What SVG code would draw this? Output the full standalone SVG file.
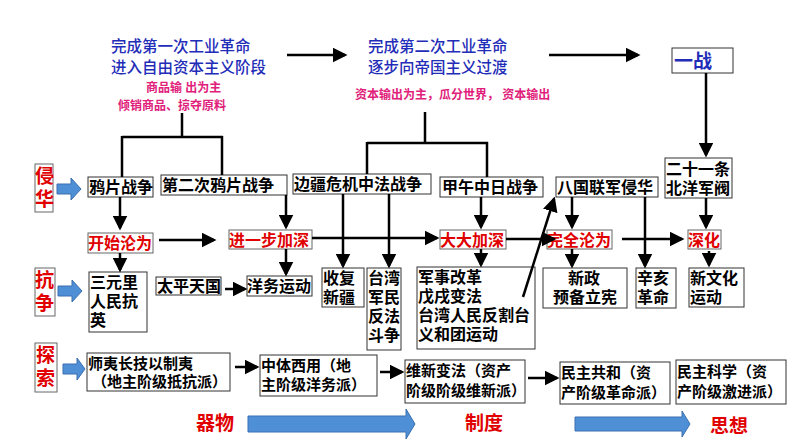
<svg xmlns="http://www.w3.org/2000/svg" width="794" height="447" viewBox="0 0 794 447">
<style>
text{font-family:"Liberation Sans","Noto Sans CJK SC",sans-serif;font-weight:bold}
.b{fill:#fff;stroke:#333;stroke-width:1}
.t{font-size:16px;fill:#000}
.r{font-size:16px;fill:#e00000}
.rb{fill:#fff;stroke:#666;stroke-width:1}
.blue{font-size:15.5px;fill:#1f2db8;font-weight:500}
.pk{font-size:12px;fill:#e0207a}
.ln{stroke:#000;stroke-width:2.5;fill:none}
.ba{fill:#4f8fd6;stroke:#3a6fb0;stroke-width:1}
.big{font-size:19px;fill:#e00000}
</style>
<defs><marker id="a" markerWidth="6" markerHeight="6" refX="5" refY="3" orient="auto" markerUnits="strokeWidth"><path d="M0,0L6,3L0,6z" fill="#000"/></marker></defs>
<g id="top">
<text class="blue" x="111" y="52">完成第一次工业革命</text>
<text class="blue" x="111" y="73">进入自由资本主义阶段</text>
<text class="blue" x="368" y="52">完成第二次工业革命</text>
<text class="blue" x="368" y="73">逐步向帝国主义过渡</text>
<text class="pk" x="146" y="92">商品输 出为主</text>
<text class="pk" x="118" y="110">倾销商品、掠夺原料</text>
<text class="pk" x="355" y="99">资本输出为主，瓜分世界，  资本输出</text>
</g>
<g id="yizhan"><rect class="b" x="672" y="48" width="61" height="25" stroke="#777"/><text class="blue" x="674" y="68" style="font-size:19px;font-weight:bold">一战</text></g>
<g id="side">
<rect class="rb" x="35" y="164" width="18" height="48"/><text class="big" x="35" y="183">侵</text><text class="big" x="35" y="206">华</text>
<rect class="rb" x="35" y="268" width="20" height="48"/><text class="big" x="35" y="287">抗</text><text class="big" x="35" y="310">争</text>
<rect class="rb" x="35" y="343" width="22" height="49"/><text class="big" x="36" y="362">探</text><text class="big" x="36" y="385">索</text>
<path class="ba" d="M57,184h14v-6l10,11l-10,11v-6h-14z"/>
<path class="ba" d="M58,286h14v-6l10,11l-10,11v-6h-14z"/>
<path class="ba" d="M63,364h14v-6l8,11l-8,11v-6h-14z"/>
</g>
<g id="row1">
<rect class="b" x="88" y="177" width="65" height="20"/><text class="t" x="89" y="193">鸦片战争</text>
<rect class="b" x="161" y="175" width="126" height="20"/><text class="t" x="162" y="191">第二次鸦片战争</text>
<rect class="b" x="293" y="174" width="138" height="20"/><text class="t" x="294" y="190">边疆危机中法战争</text>
<rect class="b" x="440" y="177" width="103" height="20"/><text class="t" x="442" y="193">甲午中日战争</text>
<rect class="b" x="556" y="177" width="102" height="20"/><text class="t" x="557" y="193">八国联军侵华</text>
<rect class="b" x="665" y="158" width="67" height="40"/><text class="t" x="666" y="175">二十一条</text><text class="t" x="666" y="194">北洋军阀</text>
</g>
<g id="row2">
<rect class="rb" x="88" y="233" width="65" height="20"/><text class="r" x="88" y="249">开始沦为</text>
<rect class="rb" x="229" y="230" width="83" height="19"/><text class="r" x="229" y="246">进一步加深</text>
<rect class="rb" x="440" y="230" width="66" height="19"/><text class="r" x="440" y="246">大大加深</text>
<rect class="rb" x="547" y="230" width="65" height="19"/><text class="r" x="547" y="246">完全沦为</text>
<rect class="rb" x="688" y="230" width="33" height="19"/><text class="r" x="688" y="246">深化</text>
</g>
<g id="row3">
<rect class="b" x="89" y="272" width="58" height="60"/><text class="t" x="90" y="288">三元里</text><text class="t" x="90" y="307">人民抗</text><text class="t" x="90" y="326">英</text>
<rect class="b" x="156" y="277" width="65" height="18"/><text class="t" x="157" y="292">太平天国</text>
<rect class="b" x="247" y="276" width="65" height="20"/><text class="t" x="247" y="292">洋务运动</text>
<rect class="b" x="322" y="268" width="42" height="39"/><text class="t" x="323" y="284">收复</text><text class="t" x="323" y="303">新疆</text>
<rect class="b" x="367" y="268" width="34" height="82"/><text class="t" x="368" y="284">台湾</text><text class="t" x="368" y="303">军民</text><text class="t" x="368" y="322">反法</text><text class="t" x="368" y="341">斗争</text>
<rect class="b" x="417" y="267" width="118" height="82"/><text class="t" x="418" y="283">军事改革</text><text class="t" x="418" y="302">戊戌变法</text><text class="t" x="418" y="321">台湾人民反割台</text><text class="t" x="418" y="340">义和团运动</text>
<rect class="b" x="543" y="268" width="84" height="40"/><text class="t" x="568" y="284">新政</text><text class="t" x="553" y="303">预备立宪</text>
<rect class="b" x="636" y="268" width="40" height="40"/><text class="t" x="637" y="284">辛亥</text><text class="t" x="637" y="303">革命</text>
<rect class="b" x="689" y="268" width="55" height="39"/><text class="t" x="690" y="284">新文化</text><text class="t" x="690" y="303">运动</text>
</g>
<g id="row4">
<rect class="b" x="87" y="353" width="143" height="38"/><text class="t" x="88" y="369" style="font-size:15px">师夷长技以制夷</text><text class="t" x="92" y="387" style="font-size:15px">（地主阶级抵抗派）</text>
<rect class="b" x="260" y="355" width="117" height="41"/><text class="t" x="261" y="371" style="font-size:15px">中体西用（地</text><text class="t" x="261" y="390" style="font-size:15px">主阶级洋务派）</text>
<rect class="b" x="405" y="360" width="120" height="43"/><text class="t" x="406" y="376" style="font-size:15px">维新变法（资产</text><text class="t" x="406" y="396" style="font-size:15px">阶级阶级维新派）</text>
<rect class="b" x="560" y="362" width="110" height="42"/><text class="t" x="561" y="378" style="font-size:15px">民主共和（资</text><text class="t" x="561" y="398" style="font-size:15px">产阶级革命派）</text>
<rect class="b" x="676" y="360" width="110" height="44"/><text class="t" x="677" y="377" style="font-size:15px">民主科学（资</text><text class="t" x="677" y="397" style="font-size:15px">产阶级激进派）</text>
</g>
<g id="bottom">
<text class="big" x="196" y="430">器物</text>
<path class="ba" d="M248,416h158v-7l9,15l-9,15v-7h-158z"/>
<text class="big" x="465" y="430">制度</text>
<path class="ba" d="M575,417h107v-6l8,13l-8,13v-6h-107z"/>
<text class="big" x="710" y="433">思想</text>
</g>
<g id="connectors">
<path class="ln" d="M287,55H345" marker-end="url(#a)"/>
<path class="ln" d="M549,55H638" marker-end="url(#a)"/>
<path class="ln" d="M182,113V137M122,137H223M122,136V177M222,136V175"/>
<path class="ln" d="M425,112V143M367,143H488M367,142V174M487,142V177"/>
<path class="ln" d="M706,73V155" marker-end="url(#a)"/>
<path class="ln" d="M120,197V228" marker-end="url(#a)"/>
<path class="ln" d="M286,195V227" marker-end="url(#a)"/>
<path class="ln" d="M159,240H214" marker-end="url(#a)"/>
<path class="ln" d="M312,238H437" marker-end="url(#a)"/>
<path class="ln" d="M506,239H554" marker-end="url(#a)"/>
<path class="ln" d="M622,239H682" marker-end="url(#a)"/>
<path class="ln" d="M343,194V266" marker-end="url(#a)"/>
<path class="ln" d="M389,194V266" marker-end="url(#a)"/>
<path class="ln" d="M481,197V227" marker-end="url(#a)"/>
<path class="ln" d="M481,249V265" marker-end="url(#a)"/>
<path class="ln" d="M572,197V227" marker-end="url(#a)"/>
<path class="ln" d="M572,249V266" marker-end="url(#a)"/>
<path class="ln" d="M645,197V266" marker-end="url(#a)"/>
<path class="ln" d="M706,198V227" marker-end="url(#a)"/>
<path class="ln" d="M709,251V265" marker-end="url(#a)"/>
<path class="ln" d="M120,253V270" marker-end="url(#a)"/>
<path class="ln" d="M286,249V274" marker-end="url(#a)"/>
<path class="ln" d="M225,289H245" marker-end="url(#a)"/>
<path class="ln" d="M523,297L554,199" marker-end="url(#a)"/>
<path class="ln" d="M235,367H257" marker-end="url(#a)"/>
<path class="ln" d="M380,372H402" marker-end="url(#a)"/>
<path class="ln" d="M528,378H557" marker-end="url(#a)"/>
</g>
</svg>
